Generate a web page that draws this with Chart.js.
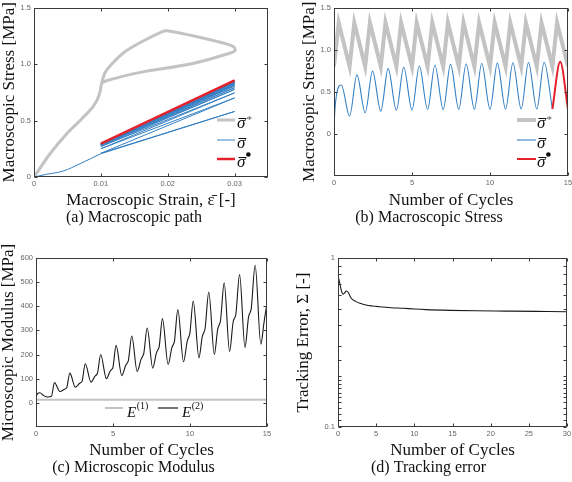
<!DOCTYPE html>
<html><head><meta charset="utf-8">
<script src="https://cdn.jsdelivr.net/npm/chart.js@4"></script>
<style>
html,body{margin:0;padding:0;background:#fff;overflow:hidden;width:572px;height:482px;}
canvas{position:absolute;}
</style></head><body>
<canvas id="ca" width="290" height="230" style="left:0;top:0"></canvas>
<canvas id="cb" width="290" height="230" style="left:290px;top:0"></canvas>
<canvas id="cc" width="290" height="237" style="left:0;top:245px"></canvas>
<canvas id="cd" width="290" height="237" style="left:290px;top:245px"></canvas>
<script>
// ---------- DATA ----------
// (a) target path sigma* : initial ramp (strain / stress)
const starRampStrain = [0, 0.0024, 0.0049, 0.0074, 0.0094, 0.0099, 0.0101];
const starRampStress = [0, 0.206, 0.383, 0.53, 0.676, 0.76, 0.83];
// (a) target path sigma* : cyclic loop
const starLoopStrain = [0.0101, 0.0106, 0.0114, 0.0134, 0.0159, 0.0192, 0.0199, 0.0249, 0.0289, 0.0299, 0.0301, 0.0295, 0.0234, 0.0159, 0.0107, 0.0101];
const starLoopStress = [0.83, 0.92, 0.985, 1.10, 1.19, 1.287, 1.294, 1.235, 1.176, 1.15, 1.12, 1.10, 1.0, 0.926, 0.85, 0.83];
// (a) initial loading of sigma bar
const initStrain = [0, 0.0019, 0.0044, 0.0069, 0.0100];
const initStress = [0, 0.024, 0.053, 0.118, 0.206];
// strain limits of the cycles
const loopStrain = [0.01, 0.03];
// per-cycle peaks / troughs of sigma bar (last cycle = sigma bullet)
const cyclePeak   = [0.58, 0.70, 0.745, 0.775, 0.79, 0.805, 0.815, 0.825, 0.83, 0.835, 0.84, 0.845, 0.848, 0.85, 0.855];
const cycleTrough = [0.21, 0.25, 0.27, 0.28, 0.285, 0.29, 0.29, 0.292, 0.292, 0.294, 0.294, 0.295, 0.295, 0.295, 0.295];
const peakAt   = [0.47, 1.47, 2.47, 3.47, 4.47, 5.47, 6.47, 7.47, 8.47, 9.47, 10.47, 11.47, 12.47, 13.47, 14.5];
const troughAt = [1, 2, 3, 4, 5, 6, 7, 8, 9, 10, 11, 12, 13, 14, 15];
const rampT = [0, 0.04, 0.15];
const rampV = [0, 0.22, 0.45];
// (b) sigma* vs cycles
const starT = [0, 0.3, 1, 1.3, 2, 2.3, 3, 3.3, 4, 4.3, 5, 5.3, 6, 6.3, 7, 7.3, 8, 8.3, 9, 9.3, 10, 10.3, 11, 11.3, 12, 12.3, 13, 13.3, 14, 14.3, 15];
const starV = [0.8, 1.32, 0.8, 1.32, 0.8, 1.32, 0.8, 1.32, 0.8, 1.32, 0.8, 1.32, 0.8, 1.32, 0.8, 1.32, 0.8, 1.32, 0.8, 1.32, 0.8, 1.32, 0.8, 1.32, 0.8, 1.32, 0.8, 1.32, 0.8, 1.32, 0.8];
// (c) microscopic modulus
const modT = [0, 0.1, 0.25, 0.5, 0.75, 1.0,
  1.2, 1.55, 1.82, 1.95, 2.0,
  2.2, 2.55, 2.82, 2.95, 3.0,
  3.2, 3.57, 3.82, 3.95, 4.0,
  4.2, 4.57, 4.82, 4.95, 5.0,
  5.2, 5.57, 5.82, 5.95, 6.0,
  6.22, 6.57, 6.82, 6.95, 7.0,
  7.22, 7.58, 7.82, 7.95, 8.0,
  8.21, 8.58, 8.82, 8.94, 8.99,
  9.21, 9.58, 9.82, 9.94, 9.99,
  10.21, 10.58, 10.8, 10.93, 10.98,
  11.22, 11.58, 11.8, 11.93, 11.98,
  12.22, 12.57, 12.8, 12.93, 12.98,
  13.22, 13.57, 13.8, 13.93, 13.98,
  14.23, 14.6, 14.8, 14.93, 15];
const modV = [24, 38, 42, 30, 24, 27,
  84, 47, 55, 60, 63,
  123, 65, 80, 86, 91,
  162, 86, 110, 118, 125,
  200, 100, 132, 141, 148,
  238, 113, 155, 168, 176,
  277, 130, 180, 196, 205,
  310, 144, 207, 224, 233,
  349, 159, 228, 245, 255,
  386, 170, 255, 276, 287,
  422, 187, 275, 296, 308,
  459, 200, 305, 328, 340,
  497, 213, 335, 356, 368,
  531, 230, 355, 379, 392,
  570, 243, 330, 385, 410];
const modE1T = [0, 15];
const modE1V = [13, 13];
// (d) tracking error
const errT = [0, 0.2, 0.45, 0.65, 0.85, 1.1, 1.35, 1.7, 2.36, 3.0, 3.67, 4.5, 5.4, 7, 8.5, 10, 11.5, 14.7, 18, 22, 26, 30];
const errV = [0.785, 0.72, 0.64, 0.61, 0.62, 0.638, 0.625, 0.58, 0.552, 0.538, 0.527, 0.52, 0.515, 0.508, 0.504, 0.499, 0.495, 0.49, 0.487, 0.485, 0.483, 0.481];

// ---------- STYLE ----------
const SERIF = '"Liberation Serif", "DejaVu Serif", serif';
const SANS = '"Liberation Sans", Arial, sans-serif';
const GRAY = '#C3C3C3', BLUE = '#3480C4', RED = '#E3222B', BLACK = '#1a1a1a';

const zip = (xs, ys) => xs.map((x, i) => ({x, y: ys[i]}));

// build datasets from the arrays
const aBlue = [{x: initStrain[initStrain.length - 1], y: initStress[initStress.length - 1]}];
for (let i = 0; i < 14; i++) {
  aBlue.push({x: loopStrain[1], y: cyclePeak[i]});
  aBlue.push({x: loopStrain[0], y: cycleTrough[i]});
}
const aRed = [{x: loopStrain[0], y: cycleTrough[13]}, {x: loopStrain[1], y: cyclePeak[14]}, {x: loopStrain[0], y: cycleTrough[14]}];
const bBlue = zip(rampT, rampV);
for (let i = 0; i < 14; i++) {
  bBlue.push({x: peakAt[i], y: cyclePeak[i]});
  bBlue.push({x: troughAt[i], y: cycleTrough[i]});
}
const bRed = [{x: troughAt[13], y: cycleTrough[13]}, {x: peakAt[14], y: cyclePeak[14]}, {x: troughAt[14], y: cycleTrough[14]}];

// ---------- PLUGINS ----------
const framePlugin = {
  id: 'frame',
  afterDatasetsDraw(chart) {
    const {ctx, chartArea: a} = chart;
    const L = 3;
    ctx.save();
    ctx.strokeStyle = '#3a3a3a';
    ctx.lineWidth = 1;
    const l = Math.round(a.left) + 0.5, r = Math.round(a.right) - 0.5, t = Math.round(a.top) + 0.5, b = Math.round(a.bottom) - 0.5;
    ctx.strokeRect(l, t, r - l, b - t);
    ctx.beginPath();
    const xs = chart.scales.x, ys = chart.scales.y;
    xs.ticks.forEach(tk => {
      const p = Math.round(xs.getPixelForValue(tk.value)) + 0.5;
      ctx.moveTo(p, b); ctx.lineTo(p, b - L);
      ctx.moveTo(p, t); ctx.lineTo(p, t + L);
    });
    ys.ticks.forEach(tk => {
      const p = Math.round(ys.getPixelForValue(tk.value)) + 0.5;
      ctx.moveTo(l, p); ctx.lineTo(l + L, p);
      ctx.moveTo(r, p); ctx.lineTo(r - L, p);
    });
    ctx.stroke();
    ctx.restore();
  }
};

function sigmaLegend(cfg) {
  return {
    id: 'sigmaLegend',
    afterDraw(chart) {
      const ctx = chart.ctx;
      ctx.save();
      cfg.rows.forEach(row => {
        ctx.strokeStyle = row.color; ctx.lineWidth = row.width; ctx.lineCap = 'butt';
        ctx.beginPath(); ctx.moveTo(cfg.x0, row.y); ctx.lineTo(cfg.x1, row.y); ctx.stroke();
        ctx.fillStyle = '#111';
        ctx.font = 'italic 17px ' + SERIF;
        ctx.textBaseline = 'alphabetic'; ctx.textAlign = 'left';
        ctx.fillText('σ', cfg.tx, row.y + 8);
        const w = ctx.measureText('σ').width;
        ctx.fillRect(cfg.tx + 1.5, row.y - 2, w - 0.5, 1);
        if (row.sup === '*') {
          ctx.fillStyle = '#555';
          ctx.font = '11px ' + SERIF;
          ctx.fillText('*', cfg.tx + w + 1, row.y + 3);
        } else if (row.sup === 'bullet') {
          ctx.beginPath(); ctx.arc(cfg.tx + w + 3, row.y - 4.5, 2.3, 0, Math.PI * 2); ctx.fill();
        }
      });
      ctx.restore();
    }
  };
}

const modLegend = {
  id: 'modLegend',
  afterDraw(chart) {
    const ctx = chart.ctx;
    const items = [{x0: 105, x1: 123, tx: 127, color: GRAY, width: 2, sup: '(1)'}, {x0: 158, x1: 178, tx: 182, color: BLACK, width: 1.2, sup: '(2)'}];
    const y = 163;
    ctx.save();
    items.forEach(it => {
      ctx.strokeStyle = it.color; ctx.lineWidth = it.width;
      ctx.beginPath(); ctx.moveTo(it.x0, y); ctx.lineTo(it.x1, y); ctx.stroke();
      ctx.fillStyle = '#111'; ctx.textAlign = 'left'; ctx.textBaseline = 'alphabetic';
      ctx.font = 'italic 15px ' + SERIF;
      ctx.fillText('E', it.tx, y + 9);
      const w = ctx.measureText('E').width;
      ctx.font = '10px ' + SERIF;
      ctx.fillText(it.sup, it.tx + w + 0.5, y + 1);
    });
    ctx.restore();
  }
};

// ---------- OPTIONS ----------
function axisTitle(text, padTop) {
  return {display: true, text, color: '#111', font: {family: SERIF, size: 17, lineHeight: 1}, padding: {top: padTop || 0, bottom: 0}};
}
function tickOpts(extra) {
  return Object.assign({color: '#666', font: {family: SANS, size: 7.5}, padding: 2, maxRotation: 0, autoSkip: false, includeBounds: false}, extra);
}
function makeOptions(o) {
  return {
    responsive: false, animation: false, devicePixelRatio: 1, events: [],
    layout: {padding: o.pad},
    elements: {point: {radius: 0}},
    plugins: {
      legend: {display: false}, tooltip: {enabled: false},
      title: {display: true, position: 'bottom', text: o.caption, color: '#111', font: {family: SERIF, size: 16, weight: 'normal', lineHeight: 1}, padding: {top: 0, bottom: 0}}
    },
    scales: {
      x: Object.assign({
        afterFit: s => { s.height = o.xh; },
        grid: {display: false, drawTicks: false}, border: {display: false},
        title: axisTitle(o.xTitle, 0)
      }, o.x),
      y: Object.assign({
        afterFit: s => { s.width = o.yw; },
        grid: {display: false, drawTicks: false}, border: {display: false},
        title: axisTitle(o.yTitle, o.ytp)
      }, o.y)
    }
  };
}

// (a)
new Chart(document.getElementById('ca'), {
  type: 'line',
  data: {datasets: [
    {data: zip(starRampStrain, starRampStress), borderColor: GRAY, borderWidth: 3, cubicInterpolationMode: 'monotone', order: 5},
    {data: zip(starLoopStrain, starLoopStress), borderColor: GRAY, borderWidth: 3, tension: 0.25, order: 4},
    {data: zip(initStrain, initStress), borderColor: BLUE, borderWidth: 1, cubicInterpolationMode: 'monotone', order: 3},
    {data: aBlue, borderColor: BLUE, borderWidth: 1, tension: 0, order: 2},
    {data: aRed, borderColor: RED, borderWidth: 2.5, tension: 0, order: 1}
  ]},
  options: makeOptions({
    pad: {left: 0, right: 22, top: 7, bottom: 4.5}, xh: 32.5, yw: 34, ytp: 1,
    caption: '(a) Macroscopic path',
    xTitle: 'Macroscopic Strain, \u03B5\u0304 [-]', yTitle: 'Macroscopic Stress [MPa]',
    x: {type: 'linear', min: 0, max: 0.035, ticks: tickOpts({stepSize: 0.01})},
    y: {type: 'linear', min: 0, max: 1.5, ticks: tickOpts({stepSize: 0.5, padding: 3})}
  }),
  plugins: [framePlugin, sigmaLegend({x0: 217, x1: 235, tx: 237, rows: [
    {y: 120, color: GRAY, width: 3, sup: '*'},
    {y: 140, color: BLUE, width: 1, sup: null},
    {y: 159, color: RED, width: 2.5, sup: 'bullet'}]})]
});

// (b)
new Chart(document.getElementById('cb'), {
  type: 'line',
  data: {datasets: [
    {data: zip(starT, starV), borderColor: GRAY, borderWidth: 4, tension: 0, order: 3},
    {data: bBlue, borderColor: BLUE, borderWidth: 1.1, cubicInterpolationMode: 'monotone', order: 2},
    {data: bRed, borderColor: RED, borderWidth: 2, cubicInterpolationMode: 'monotone', order: 1}
  ]},
  options: makeOptions({
    pad: {left: 0, right: 12, top: 7, bottom: 4.5}, xh: 33.5, yw: 44, ytp: 11.5,
    caption: '(b) Macroscopic Stress',
    xTitle: 'Number of Cycles', yTitle: 'Macroscopic Stress [MPa]',
    x: {type: 'linear', min: 0, max: 15, ticks: tickOpts({stepSize: 5})},
    y: {type: 'linear', min: -0.5, max: 1.5, ticks: tickOpts({stepSize: 0.5, padding: 3}),
        afterBuildTicks: s => { s.ticks = s.ticks.filter(t => t.value > -0.25); }}
  }),
  plugins: [framePlugin, sigmaLegend({x0: 227, x1: 246, tx: 247, rows: [
    {y: 120, color: GRAY, width: 4, sup: '*'},
    {y: 140, color: BLUE, width: 1.1, sup: null},
    {y: 159, color: RED, width: 2, sup: 'bullet'}]})]
});

// (c)
new Chart(document.getElementById('cc'), {
  type: 'line',
  data: {datasets: [
    {data: zip(modE1T, modE1V), borderColor: GRAY, borderWidth: 2, tension: 0},
    {data: zip(modT, modV), borderColor: BLACK, borderWidth: 1.1, cubicInterpolationMode: 'monotone'}
  ]},
  options: makeOptions({
    pad: {left: 0, right: 23, top: 13, bottom: 6.5}, xh: 32.5, yw: 36, ytp: 0,
    caption: '(c) Microscopic Modulus',
    xTitle: 'Number of Cycles', yTitle: 'Microscopic Modulus [MPa]',
    x: {type: 'linear', min: 0, max: 15, ticks: tickOpts({stepSize: 5})},
    y: {type: 'linear', min: -100, max: 600, ticks: tickOpts({stepSize: 100, padding: 3}),
        afterBuildTicks: s => { s.ticks = s.ticks.filter(t => t.value > -50); }}
  }),
  plugins: [framePlugin, modLegend]
});

// (d)
new Chart(document.getElementById('cd'), {
  type: 'line',
  data: {datasets: [
    {data: zip(errT, errV), borderColor: BLACK, borderWidth: 1.1, cubicInterpolationMode: 'monotone'}
  ]},
  options: makeOptions({
    pad: {left: 0, right: 13, top: 13, bottom: 6.5}, xh: 32.5, yw: 48, ytp: 5,
    caption: '(d) Tracking error',
    xTitle: 'Number of Cycles', yTitle: 'Tracking Error, \u03A3 [-]',
    x: {type: 'linear', min: 0, max: 30, ticks: tickOpts({stepSize: 5})},
    y: {type: 'logarithmic', min: 0.1, max: 1, ticks: tickOpts({padding: 3,
        callback: v => (Math.abs(v - 1) < 1e-9 ? '1' : (Math.abs(v - 0.1) < 1e-9 ? '0.1' : ''))})}
  }),
  plugins: [framePlugin]
});
</script>
</body></html>
